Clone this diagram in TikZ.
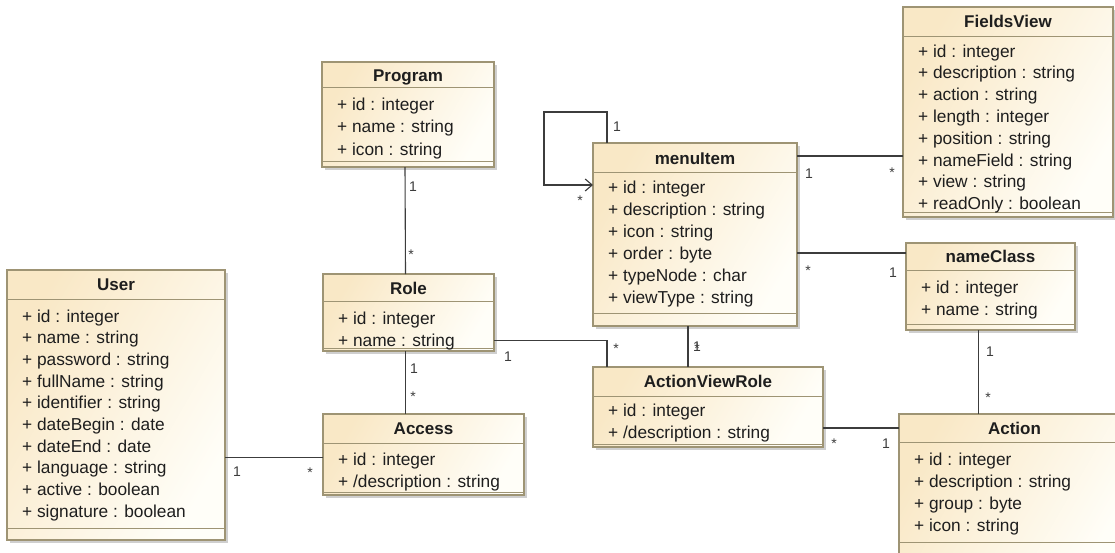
\documentclass[tikz,border=0pt]{standalone}
\usepackage{fontspec}
\setmainfont{Liberation Sans}
\usetikzlibrary{arrows.meta,calc}

\definecolor{umlfillA}{HTML}{F9E8C6}
\definecolor{umlfillB}{HTML}{FFFEF8}
\definecolor{umlborder}{HTML}{9E9474}
\definecolor{umlshadow}{HTML}{CFCFCF}
\definecolor{umltext}{HTML}{1E1E1E}
\definecolor{connector}{HTML}{3C3C3C}

\tikzset{
  classbox/.style={draw=umlborder, line width=1.2pt, left color=umlfillA,
    right color=umlfillB, shading angle=60, inner sep=0pt, outer sep=0pt,
    anchor=north west},
  sepline/.style={draw=umlborder, line width=1pt},
  classtitle/.style={font=\fontsize{17}{20}\selectfont\bfseries, text=umltext,
    inner sep=0pt, anchor=base},
  attr/.style={font=\fontsize{17.3}{20}\selectfont, text=umltext, inner sep=0pt,
    anchor=base west},
  assoc/.style={draw=connector, line width=1.1pt},
  mult/.style={font=\fontsize{14}{16}\selectfont, text=connector, inner sep=0pt,
    anchor=base},
}

% #1 name, #2 left, #3 top, #4 right, #5 bottom, #6 header rule, #7 bottom rule, #8 title baseline
\newcommand\umlclass[8]{%
  \fill[umlshadow] (#2+2.5,#3+2.5) rectangle (#4+2.5,#5+2.5);
  \node[classbox, minimum width={#4-#2}, minimum height={#5-#3}] (#1) at (#2,#3) {};
  \draw[sepline] (#2,#6) -- (#4,#6);
  \draw[sepline] (#2,#7) -- (#4,#7);
  \node[classtitle] at ({(#2+#4)/2},#8) {#1};
}
% #1 text left, #2 first baseline, #3 row spacing, #4 attribute list
\newcommand\umlattrs[4]{%
  \foreach \a [count=\i from 0] in {#4}
    \node[attr] at (#1,{#2+\i*#3}) {\a};
}

\begin{document}
\begin{tikzpicture}[x=1pt,y=-1pt]
\fill[white] (0,0) rectangle (1115,552);
\useasboundingbox (0,0) rectangle (1115,552);
\clip (0,0) rectangle (1115,552);

% classes
\umlclass{Program}{322}{62}{494}{167}{87}{161}{81}
\umlattrs{337}{110}{22.5}{+ id : integer, + name : string, + icon : string}

\umlclass{Role}{323}{274}{494}{351}{301}{348}{294}
\umlattrs{338}{324}{22}{+ id : integer, + name : string}

\umlclass{Access}{323}{414}{524}{495}{443}{492}{434}
\umlattrs{338}{465}{22}{+ id : integer, + /description : string}

\umlclass{User}{7}{270}{225}{540}{299}{528}{290}
\umlattrs{22}{322}{21.7}{+ id : integer, + name : string, + password : string,
  + fullName : string, + identifier : string, + dateBegin : date,
  + dateEnd : date, + language : string, + active : boolean,
  + signature : boolean}

\umlclass{menuItem}{593}{143}{797}{326}{172}{313}{164}
\umlattrs{608}{193}{22}{+ id : integer, + description : string, + icon : string,
  + order : byte, + typeNode : char, + viewType : string}

\umlclass{FieldsView}{903}{7}{1113}{217}{36}{212}{27}
\umlattrs{918}{57}{21.8}{+ id : integer, + description : string,
  + action : string, + length : integer, + position : string,
  + nameField : string, + view : string, + readOnly : boolean}

\umlclass{nameClass}{906}{243}{1075}{330}{270}{324}{262}
\umlattrs{921}{293}{22}{+ id : integer, + name : string}

\umlclass{ActionViewRole}{593}{367}{823}{447}{396}{444}{387}
\umlattrs{608}{416}{22}{+ id : integer, + /description : string}

\umlclass{Action}{899}{414}{1130}{565}{442}{542}{434}
\umlattrs{914}{465}{22}{+ id : integer, + description : string,
  + group : byte, + icon : string}

% associations
\draw[assoc] ([xshift=-3pt]Program.south) -- ([xshift=-3pt]Role.north);
\node[mult] at (413,191) {1};
\node[mult] at (411,259) {*};

\coordinate (ra) at ([xshift=-3pt]Role.south);
\draw[assoc] (ra) -- (ra |- Access.north);
\node[mult] at (414,373) {1};
\node[mult] at (413,401) {*};

\coordinate (ua) at ([yshift=-3pt]Access.west);
\draw[assoc] (ua) -- (ua -| User.east);
\node[mult] at (237,476) {1};
\node[mult] at (310,477) {*};

\coordinate (rv) at ([yshift=-28pt]Role.east);
\coordinate (vr) at ([xshift=14pt]ActionViewRole.north west);
\draw[assoc] (rv) -| (vr);
\node[mult] at (508,361) {1};
\node[mult] at (616,353) {*};

\coordinate (mv) at ([xshift=-7pt]menuItem.south);
\draw[assoc] (mv) -- (mv |- ActionViewRole.north);
\node[mult] at (697,351) {1};
\node[mult] at (697,353) {*};

\coordinate (mf) at ([yshift=-13pt]menuItem.north east);
\draw[assoc] (mf) -- (mf -| FieldsView.west);
\node[mult] at (809,178) {1};
\node[mult] at (892,177) {*};

\coordinate (nc) at ([yshift=-10pt]nameClass.north west);
\draw[assoc] (nc) -- (nc -| menuItem.east);
\node[mult] at (808,275) {*};
\node[mult] at (893,277) {1};

\coordinate (na) at ([xshift=-12pt]nameClass.south);
\draw[assoc] (na) -- (na |- Action.north);
\node[mult] at (990,356) {1};
\node[mult] at (988,402) {*};

\coordinate (aa) at ([yshift=-14pt]Action.north west);
\draw[assoc] (aa) -- (aa -| ActionViewRole.east);
\node[mult] at (834,448) {*};
\node[mult] at (886,448) {1};

% recursive association of menuItem
\coordinate (lp) at ([xshift=14pt]menuItem.north west);
\coordinate (li) at ([yshift=-42pt]menuItem.north west);
\draw[assoc, -{Straight Barb[length=7pt,width=12pt]}]
  (lp) -- ++(0,-31) -| ([xshift=-49pt]li) -- (li);
\node[mult] at (617,131) {1};
\node[mult] at (580,205) {*};
\end{tikzpicture}
\end{document}
